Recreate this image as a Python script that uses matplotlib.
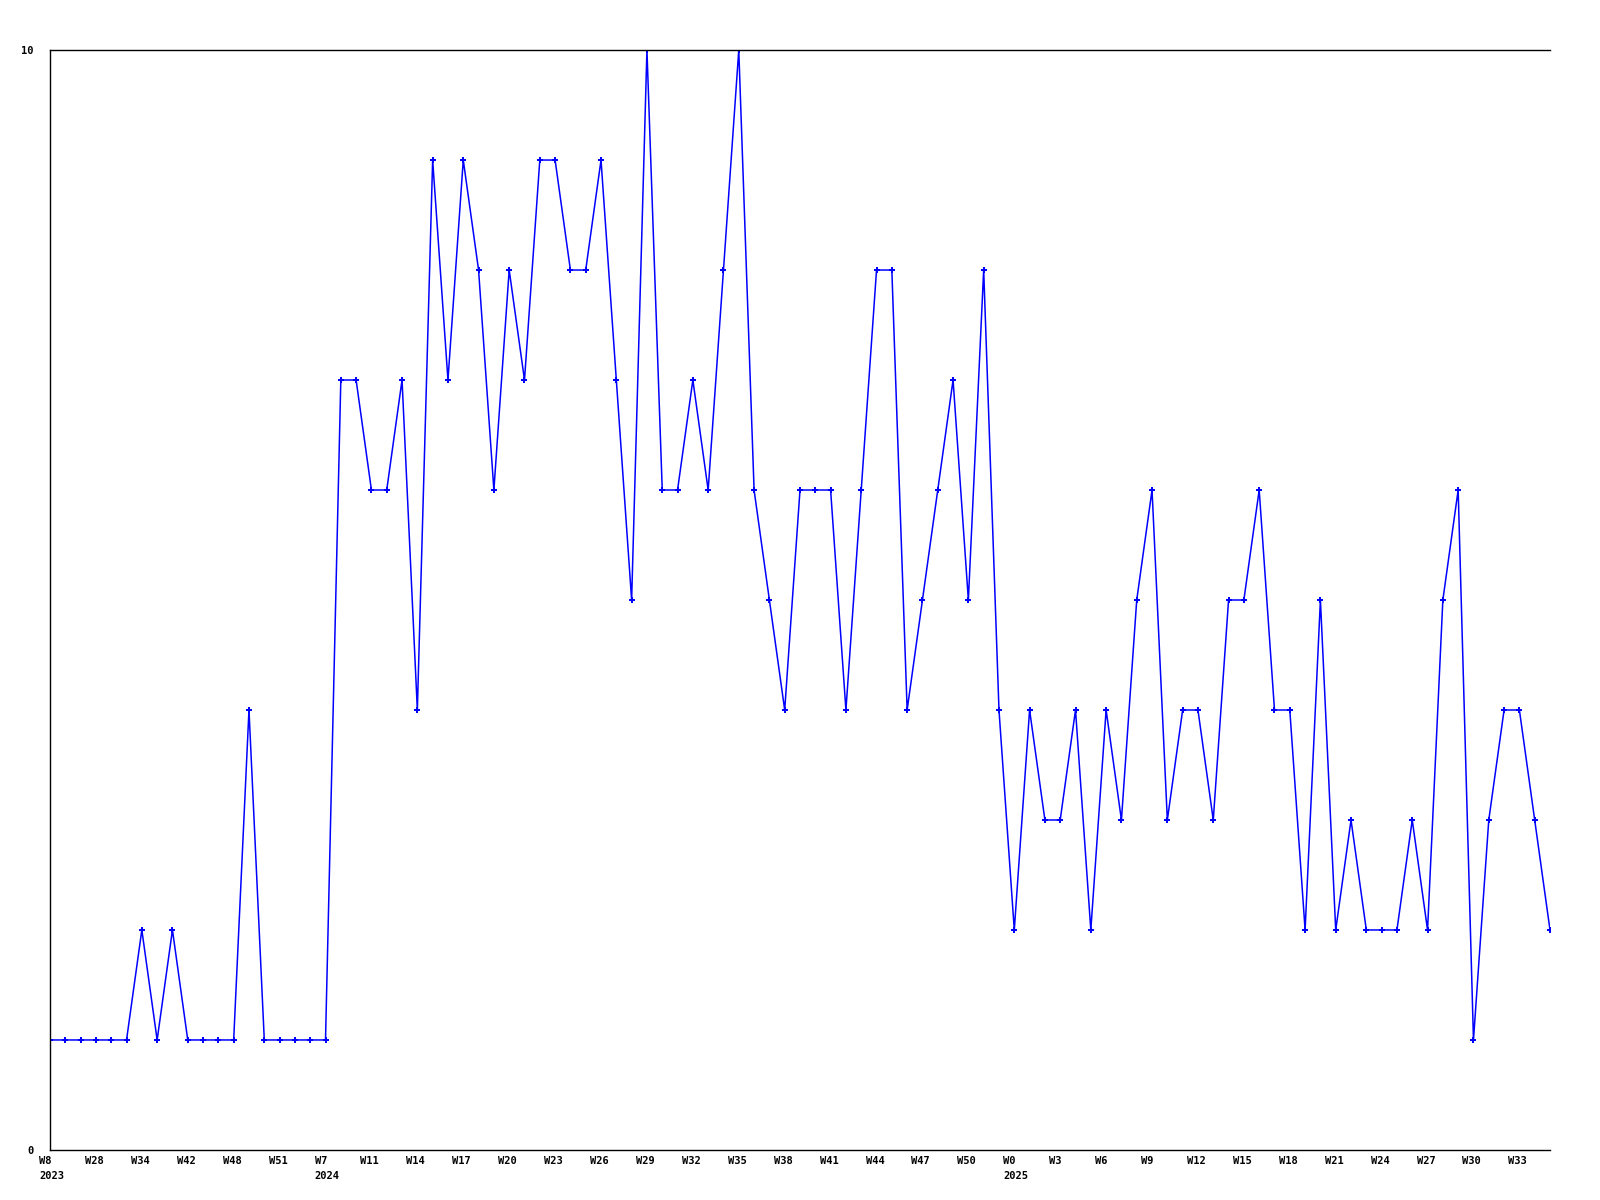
import matplotlib
matplotlib.use("Agg")
import matplotlib.pyplot as plt
from matplotlib.transforms import ScaledTranslation

# Werte pro Woche (gelesen aus dem Bild)
values = [1, 1, 1, 1, 1, 1, 2, 1, 2, 1, 1, 1, 1, 4, 1, 1, 1, 1, 1, 7,
          7, 6, 6, 7, 4, 9, 7, 9, 8, 6, 8, 7, 9, 9, 8, 8, 9, 7, 5, 10,
          6, 6, 7, 6, 8, 10, 6, 5, 4, 6, 6, 6, 4, 6, 8, 8, 4, 5, 6, 7,
          5, 8, 4, 2, 4, 3, 3, 4, 2, 4, 3, 5, 6, 3, 4, 4, 3, 5, 5, 6,
          4, 4, 2, 5, 2, 3, 2, 2, 2, 3, 2, 5, 6, 1, 3, 4, 4, 3, 2]

week_labels = ["W8", "W28", "W34", "W42", "W48", "W51", "W7", "W11", "W14", "W17",
               "W20", "W23", "W26", "W29", "W32", "W35", "W38", "W41", "W44", "W47",
               "W50", "W0", "W3", "W6", "W9", "W12", "W15", "W18", "W21", "W24",
               "W27", "W30", "W33"]
year_labels = {0: "2023", 18: "2024", 63: "2025"}
label_step = 3

x = list(range(len(values)))

fig = plt.figure(figsize=(16, 12), dpi=100)
ax = fig.add_axes([0.03125, 0.0417, 0.9375, 0.9166])

ax.plot(x, values, color="#0000ff", lw=1.1, marker="P", markersize=4.2,
        markeredgewidth=0)

ax.set_xlim(0, len(values) - 1)
ax.set_ylim(0, 10)

# X-Beschriftung: linksbuendig, etwas links vom Punkt
ticks = list(range(0, len(values), label_step))[:len(week_labels)]
ax.set_xticks(ticks)
ax.set_xticklabels([])
trans = ax.get_xaxis_transform() + ScaledTranslation(-11 / 100, -6 / 100, fig.dpi_scale_trans)
for t, w in zip(ticks, week_labels):
    txt = w + "\n" + year_labels[t] if t in year_labels else w
    ax.text(t, 0, txt, transform=trans, ha="left", va="top",
            fontfamily="DejaVu Sans Mono", fontweight="bold", fontsize=7.5,
            linespacing=1.6)

ax.set_yticks([0, 10])
ax.set_yticklabels(["0", "10"], fontfamily="DejaVu Sans Mono",
                   fontweight="bold", fontsize=7.5)

ax.tick_params(axis="both", length=0)
ax.tick_params(axis="y", pad=12)

ax.spines["right"].set_visible(False)
for s in ["left", "top", "bottom"]:
    ax.spines[s].set_linewidth(1)
    ax.spines[s].set_color("black")

fig.savefig("out.png", dpi=100, facecolor="white")
plt.close()
